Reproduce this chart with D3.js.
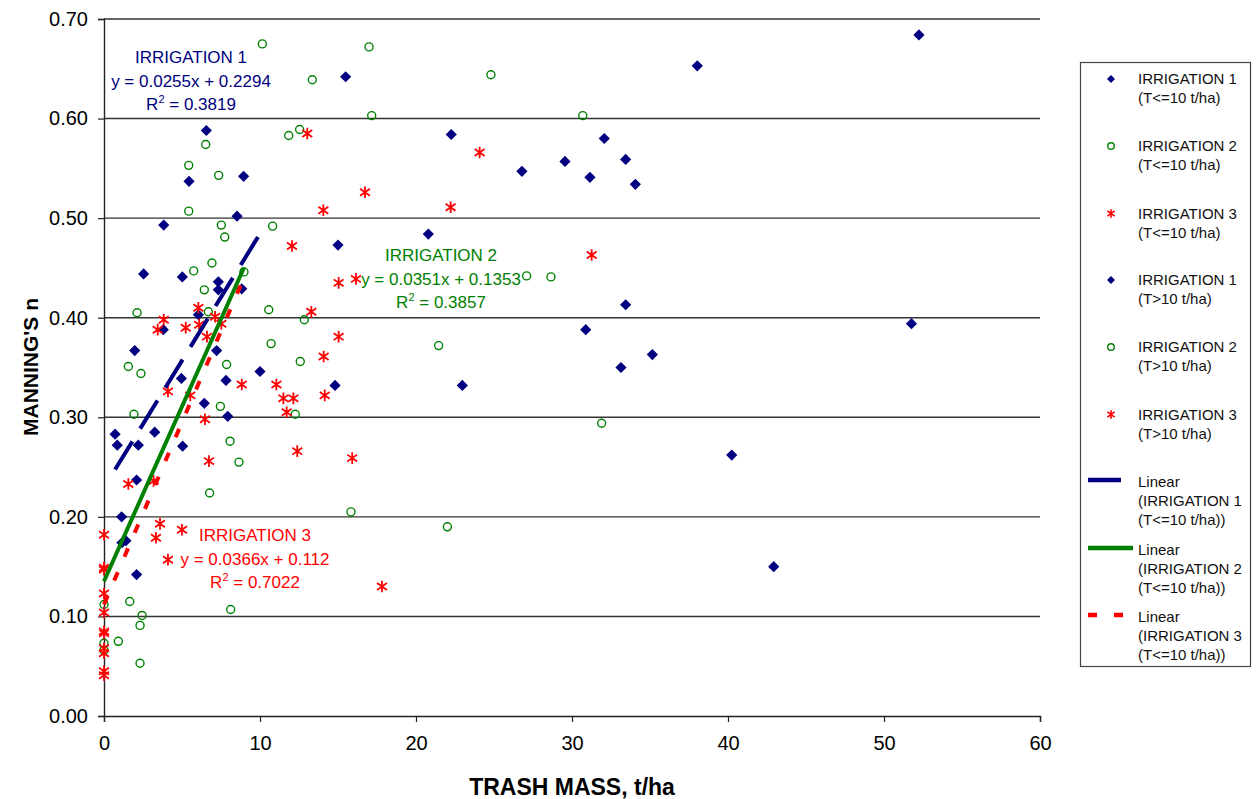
<!DOCTYPE html>
<html>
<head>
<title>Manning's n vs trash mass</title>
<script src="https://cdn.jsdelivr.net/npm/d3@7"></script>
<style>
    body {margin: 0; background: white;}
    svg text {font-family: "Liberation Sans", Arial, sans-serif;}
</style>
</head>
<body>
<svg width="1259" height="799"></svg>
<script>
// IRRIGATION 1, trash <= 10 t/ha
var irr1LoX = [6.56, 5.45, 8.95, 8.53, 3.83, 2.54, 5.02, 7.33, 7.33, 8.83, 6.05, 3.80, 1.97, 7.22, 10.0, 4.96, 7.82, 6.43, 7.93, 0.71, 3.25, 0.85, 2.20, 5.04, 2.09, 1.13, 1.15, 1.41, 2.09];
var irr1LoY = [0.588, 0.537, 0.542, 0.502, 0.493, 0.444, 0.441, 0.436, 0.428, 0.429, 0.403, 0.388, 0.367, 0.367, 0.346, 0.339, 0.337, 0.314, 0.301, 0.283, 0.285, 0.272, 0.272, 0.271, 0.237, 0.200, 0.174, 0.176, 0.142];
// IRRIGATION 2, trash <= 10 t/ha
var irr2LoX = [6.52, 5.43, 7.35, 5.43, 7.52, 7.74, 6.92, 5.75, 8.97, 6.43, 2.12, 6.69, 1.56, 2.37, 7.86, 7.46, 1.92, 8.08, 8.65, 6.77, 0, 1.65, 2.44, 2.31, 0.92, 0, 0, 2.31, 8.12];
var irr2LoY = [0.574, 0.553, 0.543, 0.507, 0.493, 0.481, 0.455, 0.447, 0.446, 0.428, 0.405, 0.406, 0.351, 0.344, 0.353, 0.311, 0.303, 0.276, 0.255, 0.224, 0.112, 0.115, 0.101, 0.091, 0.075, 0.073, 0.066, 0.053, 0.107];
// IRRIGATION 3, trash <= 10 t/ha
var irr3LoX = [6.05, 7.12, 3.83, 3.44, 5.24, 6.10, 7.52, 6.60, 4.10, 5.53, 8.83, 6.47, 6.73, 1.56, 3.18, 0, 3.59, 3.33, 5.00, 4.10, 0, 0, 0, 0, 0, 0, 0, 0, 0, 0];
var irr3LoY = [0.410, 0.401, 0.398, 0.388, 0.390, 0.393, 0.394, 0.381, 0.326, 0.322, 0.333, 0.298, 0.256, 0.233, 0.236, 0.182, 0.193, 0.179, 0.187, 0.157, 0.149, 0.147, 0.123, 0.104, 0.085, 0.083, 0.068, 0.063, 0.045, 0.041];
// IRRIGATION 1, trash > 10 t/ha
var irr1HiX = [15.49, 22.26, 26.79, 15.0, 20.79, 14.81, 22.97, 38.03, 32.07, 33.44, 29.55, 31.15, 34.06, 33.44, 30.88, 35.15, 33.14, 40.24, 42.93, 52.24, 51.76];
var irr1HiY = [0.642, 0.584, 0.547, 0.473, 0.484, 0.332, 0.332, 0.653, 0.580, 0.559, 0.557, 0.541, 0.534, 0.413, 0.388, 0.363, 0.350, 0.262, 0.150, 0.684, 0.394];
// IRRIGATION 2, trash > 10 t/ha
var irr2HiX = [10.15, 13.35, 11.84, 12.54, 10.81, 16.99, 24.8, 17.16, 27.09, 28.65, 30.69, 10.71, 10.56, 12.84, 12.58, 12.26, 21.45, 15.83, 22.01, 31.9];
var irr2HiY = [0.675, 0.639, 0.583, 0.589, 0.492, 0.672, 0.644, 0.603, 0.442, 0.441, 0.603, 0.374, 0.408, 0.398, 0.356, 0.303, 0.372, 0.205, 0.190, 0.294];
// IRRIGATION 3, trash > 10 t/ha
var irr3HiX = [13.03, 12.05, 24.08, 16.73, 14.06, 22.22, 15.04, 16.15, 13.29, 15.04, 14.08, 14.15, 11.05, 11.50, 12.14, 11.71, 12.39, 15.91, 31.26, 17.82];
var irr3HiY = [0.585, 0.472, 0.566, 0.526, 0.508, 0.511, 0.435, 0.439, 0.406, 0.381, 0.361, 0.322, 0.333, 0.319, 0.319, 0.305, 0.266, 0.259, 0.463, 0.130];

// linear trend equations shown on the chart (slope, intercept)
var trendSlope = [0.0255, 0.0351, 0.0366];
var trendIntercept = [0.2294, 0.1353, 0.112];

var xTicks = [0, 10, 20, 30, 40, 50, 60];
var yTicks = [0, 0.1, 0.2, 0.3, 0.4, 0.5, 0.6, 0.7];

var navy = "#000080", green = "#008000", red = "#ff0000";

var xs = d3.scaleLinear().domain([0, 60]).range([104, 1040]);
var ys = d3.scaleLinear().domain([0, 0.7]).range([716, 19]);

var svg = d3.select("svg");

function zip(a, b) { return a.map(function(v, i){ return [v, b[i]]; }); }

// gridlines
svg.append("g")
    .selectAll("line")
    .data(yTicks.slice(1))
    .enter()
    .append("line")
        .attr("x1", xs(0)).attr("x2", xs(60))
        .attr("y1", function(d){ return ys(d); })
        .attr("y2", function(d){ return ys(d); })
        .attr("stroke", "#333")
        .attr("stroke-width", 1.4);

// axes
var yAxis = svg.append("g")
    .attr("transform", "translate(" + xs(0) + ",0)")
    .call(d3.axisLeft(ys).tickValues(yTicks).tickFormat(d3.format(".2f")).tickSize(6).tickPadding(10));
var xAxis = svg.append("g")
    .attr("transform", "translate(0," + ys(0) + ")")
    .call(d3.axisBottom(xs).tickValues(xTicks).tickFormat(d3.format("d")).tickSize(6).tickPadding(14));
[yAxis, xAxis].forEach(function(ax){
    ax.select(".domain").attr("stroke", "#222").attr("stroke-width", 1.4);
    ax.selectAll(".tick line").attr("stroke", "#222").attr("stroke-width", 1.2);
    ax.selectAll(".tick text").attr("fill", "#000").style("font-size", "20px")
        .style("font-family", "'Liberation Sans', Arial, sans-serif");
});

// axis titles
svg.append("text")
    .attr("x", 572).attr("y", 795)
    .attr("text-anchor", "middle")
    .style("font-size", "23px").style("font-weight", "bold")
    .text("TRASH MASS, t/ha");
svg.append("text")
    .attr("transform", "translate(38,367) rotate(-90)")
    .attr("text-anchor", "middle")
    .style("font-size", "21px").style("font-weight", "bold")
    .text("MANNING'S n");

// marker drawing
function starPath(s) {
    return "M0," + (-s) + "L0," + s + "M" + (-s*0.85) + "," + (-s*0.6) + "L" + (s*0.85) + "," + (s*0.6) +
           "M" + (-s*0.85) + "," + (s*0.6) + "L" + (s*0.85) + "," + (-s*0.6);
}
function diamond(g, pts, size) {
    g.selectAll(null).data(pts).enter().append("path")
        .attr("d", d3.symbol().type(d3.symbolDiamond2).size(size))
        .attr("transform", function(d){ return "translate(" + xs(d[0]) + "," + ys(d[1]) + ")"; })
        .attr("fill", navy);
}
function circles(g, pts, r) {
    g.selectAll(null).data(pts).enter().append("circle")
        .attr("cx", function(d){ return xs(d[0]); })
        .attr("cy", function(d){ return ys(d[1]); })
        .attr("r", r)
        .attr("fill", "none").attr("stroke", green).attr("stroke-width", 1.4);
}
function star(g, pts, s) {
    g.selectAll(null).data(pts).enter().append("path")
        .attr("d", starPath(s))
        .attr("transform", function(d){ return "translate(" + xs(d[0]) + "," + ys(d[1]) + ")"; })
        .attr("stroke", red).attr("stroke-width", 1.8).attr("fill", "none");
}

var marks = svg.append("g");
diamond(marks, zip(irr1LoX, irr1LoY), 80);
circles(marks, zip(irr2LoX, irr2LoY), 4);
star(marks, zip(irr3LoX, irr3LoY), 5.8);
diamond(marks, zip(irr1HiX, irr1HiY), 80);
circles(marks, zip(irr2HiX, irr2HiY), 4);
star(marks, zip(irr3HiX, irr3HiY), 5.8);

// trendlines over the x range of each T<=10 series
var trendX = [irr1LoX, irr2LoX, irr3LoX];
var trendColor = [navy, green, red];
var trendDash = ["33,15", null, "9,17"];
trendX.forEach(function(xv, i){
    var ext = d3.extent(xv);
    var pts = ext.map(function(x){ return [x, trendSlope[i] * x + trendIntercept[i]]; });
    svg.append("path")
        .datum(pts)
        .attr("fill", "none")
        .attr("stroke", trendColor[i])
        .attr("stroke-width", 4)
        .attr("stroke-dasharray", trendDash[i])
        .attr("d", d3.line().x(function(d){ return xs(d[0]); }).y(function(d){ return ys(d[1]); }));
});

// equation labels
var eqLabels = [
    {x: 191, y: 63, color: navy, lines: ["IRRIGATION 1", "y = 0.0255x + 0.2294", "R2 = 0.3819"]},
    {x: 441, y: 261, color: green, lines: ["IRRIGATION 2", "y = 0.0351x + 0.1353", "R2 = 0.3857"]},
    {x: 255, y: 541, color: red, lines: ["IRRIGATION 3", "y = 0.0366x + 0.112", "R2 = 0.7022"]}
];
eqLabels.forEach(function(l){
    l.lines.forEach(function(t, j){
        var txt = svg.append("text")
            .attr("x", l.x).attr("y", l.y + j * 23.5)
            .attr("text-anchor", "middle")
            .attr("fill", l.color)
            .style("font-size", "17px");
        if (t.indexOf("R2") === 0) {
            txt.append("tspan").text("R");
            txt.append("tspan").attr("dy", -7).style("font-size", "11px").text("2");
            txt.append("tspan").attr("dy", 7).text(t.slice(2));
        } else {
            txt.text(t);
        }
    });
});

// legend
var lg = svg.append("g");
lg.append("rect")
    .attr("x", 1080.5).attr("y", 62.5).attr("width", 170).attr("height", 604)
    .attr("fill", "white").attr("stroke", "#444").attr("stroke-width", 1.2);
var legendItems = [
    {kind: "diamond", lines: ["IRRIGATION 1", "(T<=10 t/ha)"]},
    {kind: "circle", lines: ["IRRIGATION 2", "(T<=10 t/ha)"]},
    {kind: "star", lines: ["IRRIGATION 3", "(T<=10 t/ha)"]},
    {kind: "diamond", lines: ["IRRIGATION 1", "(T>10 t/ha)"]},
    {kind: "circle", lines: ["IRRIGATION 2", "(T>10 t/ha)"]},
    {kind: "star", lines: ["IRRIGATION 3", "(T>10 t/ha)"]},
    {kind: "line1", lines: ["Linear", "(IRRIGATION 1", "(T<=10 t/ha))"]},
    {kind: "line2", lines: ["Linear", "(IRRIGATION 2", "(T<=10 t/ha))"]},
    {kind: "line3", lines: ["Linear", "(IRRIGATION 3", "(T<=10 t/ha))"]}
];
var legendTop = [79, 146, 213.5, 280, 347, 414.5, 482, 550, 617];
legendItems.forEach(function(it, i){
    var y0 = legendTop[i];
    var g = lg.append("g");
    if (it.kind === "diamond") {
        g.append("path").attr("d", d3.symbol().type(d3.symbolDiamond2).size(40))
            .attr("transform", "translate(1111," + y0 + ")").attr("fill", navy);
    } else if (it.kind === "circle") {
        g.append("circle").attr("cx", 1111).attr("cy", y0).attr("r", 3.3)
            .attr("fill", "none").attr("stroke", green).attr("stroke-width", 1.4);
    } else if (it.kind === "star") {
        g.append("path")
            .attr("d", starPath(4.3))
            .attr("transform", "translate(1111," + y0 + ")")
            .attr("stroke", red).attr("stroke-width", 1.6);
    } else {
        var k = +it.kind.slice(4) - 1;
        var x2 = k === 1 ? 1133 : (k === 0 ? 1121 : 1125);
        g.append("line").attr("x1", 1088).attr("x2", x2)
            .attr("y1", y0 - 2).attr("y2", y0 - 2)
            .attr("stroke", trendColor[k]).attr("stroke-width", 4.5)
            .attr("stroke-dasharray", trendDash[k]);
    }
    it.lines.forEach(function(t, j){
        g.append("text")
            .attr("x", 1138).attr("y", y0 + 5 + j * 19)
            .attr("fill", "#111")
            .style("font-size", "15px")
            .text(t);
    });
});
</script>
</body>
</html>
